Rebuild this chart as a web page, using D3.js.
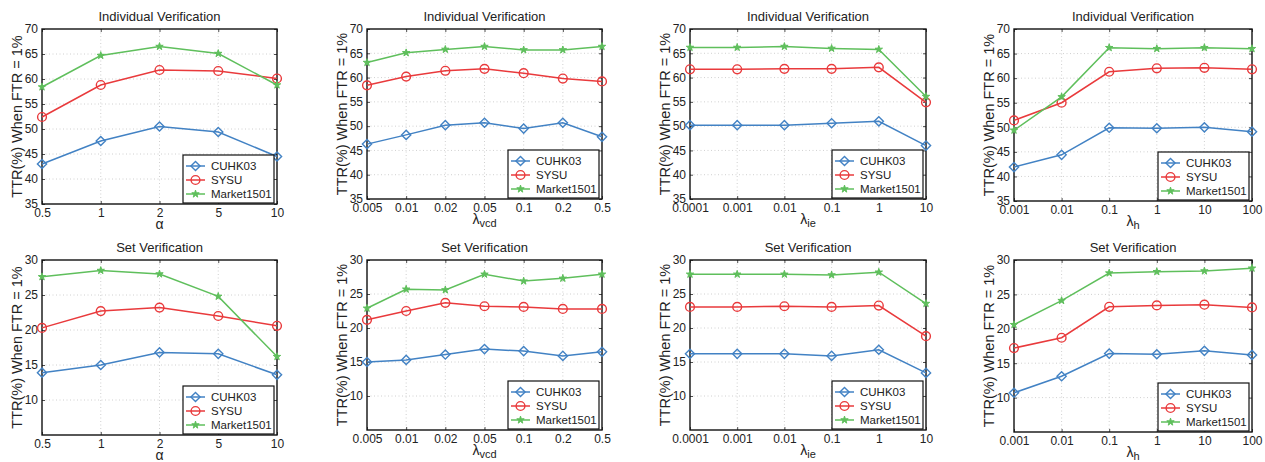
<!DOCTYPE html>
<html>
<head>
<meta charset="utf-8">
<script src="https://cdn.jsdelivr.net/npm/d3@7"></script>
<style>
  body { margin: 0; background: #fff; }
  text { font-family: "Liberation Sans", Arial, sans-serif; fill: #222; }
</style>
</head>
<body>
<svg id="chart" width="1265" height="462"></svg>
<script>
// Tick labels of each parameter sweep
const alphaTicks = ["0.5", "1", "2", "5", "10"];
const vcdTicks = ["0.005", "0.01", "0.02", "0.05", "0.1", "0.2", "0.5"];
const ieTicks = ["0.0001", "0.001", "0.01", "0.1", "1", "10"];
const hTicks = ["0.001", "0.01", "0.1", "1", "10", "100"];

const seriesNames = ["CUHK03", "SYSU", "Market1501"];

// Individual verification (TTR % at FTR = 1%)
const indAlphaCUHK = [43.0, 47.6, 50.5, 49.4, 44.5];
const indAlphaSYSU = [52.4, 58.8, 61.8, 61.6, 60.1];
const indAlphaMarket = [58.4, 64.7, 66.5, 65.1, 58.8];

const indVcdCUHK = [46.3, 48.2, 50.2, 50.7, 49.5, 50.7, 47.8];
const indVcdSYSU = [58.4, 60.2, 61.4, 61.8, 60.9, 59.8, 59.2];
const indVcdMarket = [63.1, 65.1, 65.8, 66.4, 65.7, 65.7, 66.4];

const indIeCUHK = [50.2, 50.2, 50.2, 50.6, 51.0, 46.0];
const indIeSYSU = [61.7, 61.7, 61.8, 61.8, 62.1, 54.9];
const indIeMarket = [66.2, 66.2, 66.4, 66.0, 65.8, 56.1];

const indHCUHK = [41.9, 44.4, 49.9, 49.8, 50.0, 49.1];
const indHSYSU = [51.4, 55.0, 61.3, 62.0, 62.1, 61.8];
const indHMarket = [49.4, 56.2, 66.2, 66.0, 66.2, 66.0];

// Set verification
const setAlphaCUHK = [13.9, 15.0, 16.8, 16.6, 13.6];
const setAlphaSYSU = [20.3, 22.7, 23.2, 22.0, 20.6];
const setAlphaMarket = [27.6, 28.5, 28.0, 24.8, 16.2];

const setVcdCUHK = [15.0, 15.3, 16.1, 16.9, 16.6, 15.9, 16.5];
const setVcdSYSU = [21.2, 22.5, 23.7, 23.2, 23.1, 22.8, 22.8];
const setVcdMarket = [22.9, 25.7, 25.6, 27.9, 26.9, 27.3, 27.9];

const setIeCUHK = [16.2, 16.2, 16.2, 15.9, 16.8, 13.4];
const setIeSYSU = [23.1, 23.1, 23.2, 23.1, 23.3, 18.8];
const setIeMarket = [27.9, 27.9, 27.9, 27.8, 28.2, 23.6];

const setHCUHK = [10.7, 13.1, 16.4, 16.3, 16.8, 16.2];
const setHSYSU = [17.2, 18.7, 23.2, 23.4, 23.5, 23.1];
const setHMarket = [20.6, 24.1, 28.1, 28.3, 28.4, 28.8];

const indYTicks = [35, 40, 45, 50, 55, 60, 65, 70];
const setYTicks = [10, 15, 20, 25, 30];

// Styles
const colors = ["#4282c4", "#e93a3c", "#5fbf5c"];

// Layout (per column / row)
const colLeft = [42, 367, 690, 1014];
const colWidth = [235, 235, 236, 238];
const colHeight = [175, 170, 170, 172];
const rowTop = [29, 260];

const svg = d3.select("#chart");

const panels = [
  { row: 0, col: 0, title: "Individual Verification", ticks: alphaTicks, sym: "α", sub: "", domain: [35, 70], yTicks: indYTicks, data: [indAlphaCUHK, indAlphaSYSU, indAlphaMarket] },
  { row: 0, col: 1, title: "Individual Verification", ticks: vcdTicks, sym: "λ", sub: "vcd", domain: [35, 70], yTicks: indYTicks, data: [indVcdCUHK, indVcdSYSU, indVcdMarket] },
  { row: 0, col: 2, title: "Individual Verification", ticks: ieTicks, sym: "λ", sub: "ie", domain: [35, 70], yTicks: indYTicks, data: [indIeCUHK, indIeSYSU, indIeMarket] },
  { row: 0, col: 3, title: "Individual Verification", ticks: hTicks, sym: "λ", sub: "h", domain: [35, 70], yTicks: indYTicks, data: [indHCUHK, indHSYSU, indHMarket] },
  { row: 1, col: 0, title: "Set Verification", ticks: alphaTicks, sym: "α", sub: "", domain: [5, 30], yTicks: setYTicks, data: [setAlphaCUHK, setAlphaSYSU, setAlphaMarket] },
  { row: 1, col: 1, title: "Set Verification", ticks: vcdTicks, sym: "λ", sub: "vcd", domain: [5, 30], yTicks: setYTicks, data: [setVcdCUHK, setVcdSYSU, setVcdMarket] },
  { row: 1, col: 2, title: "Set Verification", ticks: ieTicks, sym: "λ", sub: "ie", domain: [5, 30], yTicks: setYTicks, data: [setIeCUHK, setIeSYSU, setIeMarket] },
  { row: 1, col: 3, title: "Set Verification", ticks: hTicks, sym: "λ", sub: "h", domain: [5, 30], yTicks: setYTicks, data: [setHCUHK, setHSYSU, setHMarket] }
];

// Marker drawing: diamond, open circle, filled star
function drawMarker(sel, kind, color) {
  if (kind === 0) {
    sel.append("path").attr("d", "M0,-4.6L4.6,0L0,4.6L-4.6,0Z")
      .attr("fill", "none").attr("stroke", color).attr("stroke-width", 1.4);
  } else if (kind === 1) {
    sel.append("circle").attr("r", 4.4)
      .attr("fill", "none").attr("stroke", color).attr("stroke-width", 1.4);
  } else {
    sel.append("path").attr("d", d3.symbol(d3.symbolStar, 17)())
      .attr("fill", color).attr("stroke", color).attr("stroke-width", 1);
  }
}

panels.forEach(p => {
  const left = colLeft[p.col], w = colWidth[p.col], h = colHeight[p.col], top = rowTop[p.row];
  const g = svg.append("g").attr("transform", `translate(${left},${top})`);

  const x = d3.scalePoint().domain(p.ticks).range([0, w]);
  const y = d3.scaleLinear().domain(p.domain).range([h, 0]);

  // Dotted grid
  g.append("g").selectAll("line").data(p.ticks.slice(1, -1)).enter().append("line")
    .attr("x1", d => x(d)).attr("x2", d => x(d)).attr("y1", 0).attr("y2", h)
    .attr("stroke", "#c4c4c4").attr("stroke-width", 0.8).attr("stroke-dasharray", "1,2.5");
  g.append("g").selectAll("line").data(p.yTicks.filter(t => t > p.domain[0] && t < p.domain[1])).enter().append("line")
    .attr("x1", 0).attr("x2", w).attr("y1", d => y(d)).attr("y2", d => y(d))
    .attr("stroke", "#c4c4c4").attr("stroke-width", 0.8).attr("stroke-dasharray", "1,2.5");

  // Axes (MATLAB style: inward ticks, labels outside)
  g.append("g").attr("transform", `translate(0,${h})`)
    .call(d3.axisBottom(x).tickSizeInner(-3).tickSizeOuter(0).tickPadding(4));
  g.append("g")
    .call(d3.axisLeft(y).tickValues(p.yTicks).tickSizeInner(-3).tickSizeOuter(0).tickPadding(4));
  g.append("g").call(d3.axisTop(x).tickSizeInner(-3).tickSizeOuter(0).tickFormat(""));
  g.append("g").attr("transform", `translate(${w},0)`)
    .call(d3.axisRight(y).tickValues(p.yTicks).tickSizeInner(-3).tickSizeOuter(0).tickFormat(""));
  g.selectAll(".domain").remove();
  g.selectAll(".tick line").attr("stroke", "#222").attr("stroke-width", 0.8);
  g.selectAll(".tick text").style("font-size", "12px").attr("fill", "#222");

  // Box
  g.append("rect").attr("width", w).attr("height", h)
    .attr("fill", "none").attr("stroke", "#111").attr("stroke-width", 1.4);

  // Lines and markers
  p.data.forEach((vals, i) => {
    const pts = vals.map((v, j) => [x(p.ticks[j]), y(v)]);
    g.append("path").attr("d", d3.line()(pts))
      .attr("fill", "none").attr("stroke", colors[i]).attr("stroke-width", 1.5);
    pts.forEach(pt => {
      const m = g.append("g").attr("transform", `translate(${pt[0]},${pt[1]})`);
      drawMarker(m, i, colors[i]);
    });
  });

  // Title
  g.append("text").attr("x", w / 2).attr("y", -8).attr("text-anchor", "middle")
    .style("font-size", "13px").text(p.title);

  // Y label
  g.append("text").attr("transform", `translate(-20,${h / 2}) rotate(-90)`)
    .attr("text-anchor", "middle").style("font-size", "14.5px")
    .text("TTR(%) When FTR = 1%");

  // X label
  const xl = g.append("text").attr("x", w / 2).attr("y", h + 25)
    .attr("text-anchor", "middle").style("font-size", "14px");
  xl.append("tspan").text(p.sym);
  if (p.sub) xl.append("tspan").attr("dy", 3).style("font-size", "11px").text(p.sub);

  // Legend
  const lw = 91, lh = 48;
  const lg = g.append("g").attr("transform", `translate(${w - lw - 3},${h - lh - 1})`);
  lg.append("rect").attr("width", lw).attr("height", lh)
    .attr("fill", "#fff").attr("stroke", "#111").attr("stroke-width", 1.2);
  seriesNames.forEach((name, i) => {
    const ly = 11 + i * 14;
    lg.append("line").attr("x1", 3).attr("x2", 22).attr("y1", ly).attr("y2", ly)
      .attr("stroke", colors[i]).attr("stroke-width", 1.5);
    drawMarker(lg.append("g").attr("transform", `translate(12.5,${ly})`), i, colors[i]);
    lg.append("text").attr("x", 28).attr("y", ly + 4.3)
      .style("font-size", "11.5px").text(name);
  });
});
</script>
</body>
</html>
